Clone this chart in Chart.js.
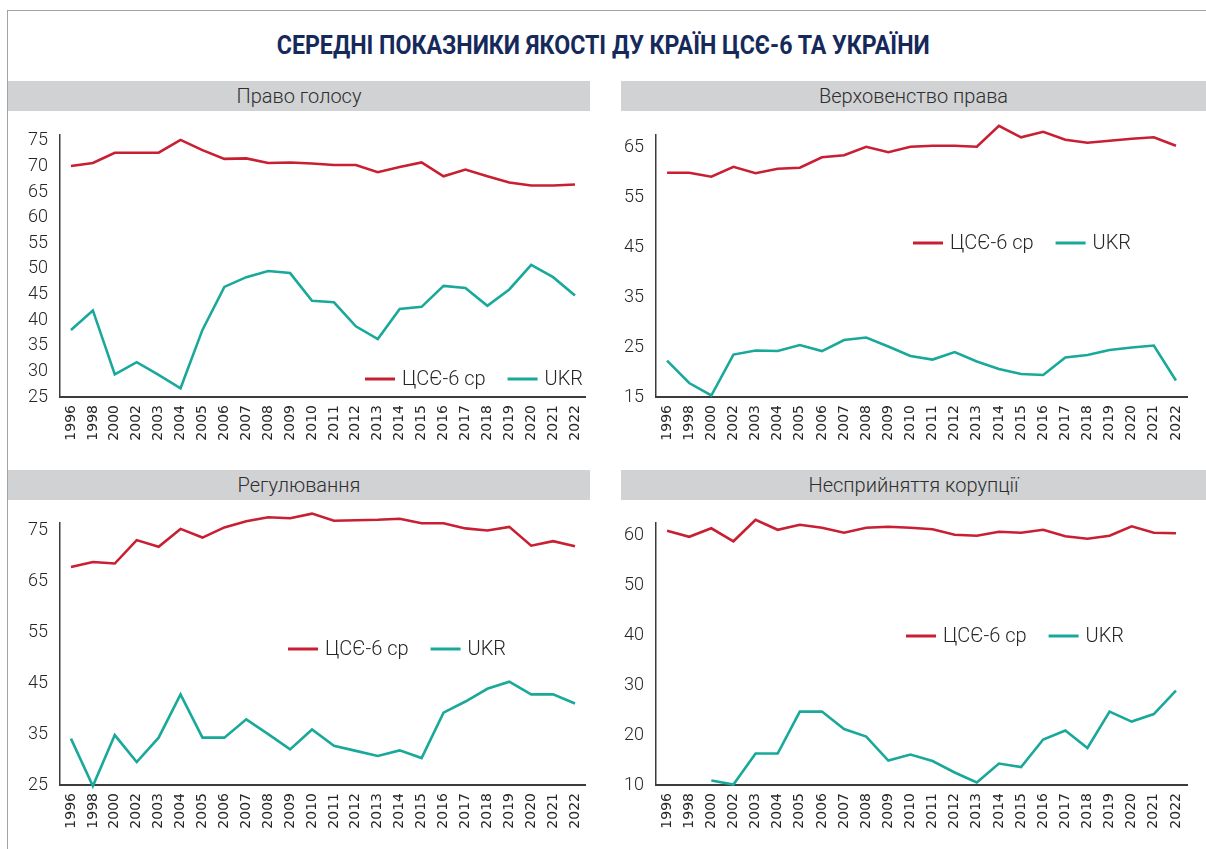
<!DOCTYPE html>
<html lang="uk">
<head>
<meta charset="utf-8">
<script src="https://cdn.jsdelivr.net/npm/chart.js@4.4.1/dist/chart.umd.min.js"></script>
<style>
  html, body { margin: 0; padding: 0; background: #fff; }
  body { width: 1206px; height: 849px; position: relative; overflow: hidden; font-family: Roboto, 'Noto Sans', sans-serif; }
  .frame { position: absolute; left: 7px; top: 10px; right: -2px; bottom: -2px; border-top: 1px solid #a3a3a3; border-left: 1px solid #a3a3a3; }
  .title { position: absolute; left: 0; top: 31px; width: 1206px; text-align: center; line-height: 30px; }
  .title span { display: inline-block; white-space: nowrap; font-weight: 700; font-size: 25px; color: #15295a; transform-origin: 50% 50%; }
  .hdr { position: absolute; height: 30px; line-height: 30px; background: #d1d2d4; color: #2e2e2e; font-size: 20px; font-weight: 300; text-align: center; }
  canvas { position: absolute; }
</style>
</head>
<body>
<div class="frame"></div>
<div class="title"><span id="title">СЕРЕДНІ ПОКАЗНИКИ ЯКОСТІ ДУ КРАЇН ЦСЄ-6 ТА УКРАЇНИ</span></div>

<div class="hdr" style="left:8px; top:81px; width:582px;">Право голосу</div>
<div class="hdr" style="left:621px; top:81px; width:585px;">Верховенство права</div>
<div class="hdr" style="left:8px; top:470px; width:582px;">Регулювання</div>
<div class="hdr" style="left:621px; top:470px; width:585px;">Несприйняття корупції</div>

<canvas id="voice" width="600" height="350" style="left:0; top:112px;"></canvas>
<canvas id="rule" width="606" height="350" style="left:600px; top:112px;"></canvas>
<canvas id="reg" width="600" height="349" style="left:0; top:500px;"></canvas>
<canvas id="corr" width="606" height="349" style="left:600px; top:500px;"></canvas>

<script>
const years = ['1996', '1998', '2000', '2002', '2003', '2004', '2005', '2006', '2007', '2008', '2009', '2010',
    '2011', '2012', '2013', '2014', '2015', '2016', '2017', '2018', '2019', '2020', '2021', '2022'];

// Право голосу
const voiceCee = [70.1, 70.7, 72.7, 72.7, 72.7, 75.2, 73.2, 71.5, 71.6, 70.7, 70.8, 70.6,
    70.3, 70.3, 68.9, 69.9, 70.8, 68.1, 69.4, 68.1, 66.9, 66.3, 66.3, 66.5];
const voiceUkr = [38.1, 41.9, 29.4, 31.8, 29.3, 26.7, 38.1, 46.5, 48.4, 49.6, 49.2, 43.8,
    43.5, 38.8, 36.3, 42.2, 42.6, 46.7, 46.3, 42.8, 46.0, 50.8, 48.4, 44.8];
const voiceTicks = [25, 30, 35, 40, 45, 50, 55, 60, 65, 70, 75];

// Верховенство права
const ruleCee = [59.9, 59.9, 59.1, 61.1, 59.8, 60.7, 60.9, 63.0, 63.4, 65.1, 64.0, 65.1,
    65.3, 65.3, 65.1, 69.3, 67.0, 68.1, 66.5, 65.9, 66.3, 66.7, 67.0, 65.3];
const ruleUkr = [22.3, 17.8, 15.3, 23.5, 24.3, 24.2, 25.4, 24.2, 26.4, 26.9, 25.1, 23.2,
    22.5, 24.0, 22.1, 20.6, 19.6, 19.4, 22.9, 23.4, 24.4, 24.9, 25.3, 18.3];
const ruleTicks = [15, 25, 35, 45, 55, 65];

// Регулювання
const regCee = [67.8, 68.8, 68.5, 73.1, 71.8, 75.3, 73.6, 75.6, 76.8, 77.6, 77.4, 78.3,
    76.9, 77.0, 77.1, 77.3, 76.4, 76.4, 75.4, 75.0, 75.7, 72.0, 72.9, 71.9];
const regUkr = [34.1, 24.8, 34.8, 29.5, 34.3, 42.8, 34.3, 34.3, 37.9, 35.0, 32.0, 35.9,
    32.7, 31.7, 30.7, 31.8, 30.3, 39.2, 41.4, 43.9, 45.3, 42.8, 42.8, 41.0];
const regTicks = [25, 35, 45, 55, 65, 75];

// Несприйняття корупції
const corrCee = [60.9, 59.7, 61.4, 58.8, 63.1, 61.1, 62.1, 61.5, 60.5, 61.5, 61.7, 61.5,
    61.2, 60.1, 59.9, 60.7, 60.5, 61.1, 59.8, 59.3, 59.9, 61.8, 60.5, 60.4];
const corrUkr = [null, null, 10.9, 10.1, 16.3, 16.3, 24.7, 24.7, 21.2, 19.7, 14.9, 16.1,
    14.8, 12.5, 10.5, 14.3, 13.6, 19.1, 20.9, 17.4, 24.7, 22.7, 24.2, 28.9];
const corrTicks = [10, 20, 30, 40, 50, 60];

const RED = '#c81f33';
const TEAL = '#19a99a';
const TEXT = '#262626';

// легенда всередині області графіка
const miniLegend = {
    id: 'miniLegend',
    afterDatasetsDraw(chart, args, opts) {
        const ctx = chart.ctx;
        let x = opts.x;
        const y = opts.y;
        ctx.save();
        ctx.font = '300 20px Roboto, sans-serif';
        ctx.textBaseline = 'middle';
        chart.data.datasets.forEach(ds => {
            ctx.strokeStyle = ds.borderColor;
            ctx.lineWidth = 3;
            ctx.beginPath();
            ctx.moveTo(x, y);
            ctx.lineTo(x + 30, y);
            ctx.stroke();
            x += 37;
            ctx.fillStyle = TEXT;
            ctx.fillText(ds.label, x, y + 1);
            x += ctx.measureText(ds.label).width + 22;
        });
        ctx.restore();
    },
};

function makeChart(id, cee, ukr, ticks, range, layout) {
    return new Chart(document.getElementById(id), {
        type: 'line',
        data: {
            labels: years,
            datasets: [
                { label: 'ЦСЄ-6 ср', data: cee, borderColor: RED, backgroundColor: RED, borderWidth: 2.6, pointRadius: 0, tension: 0, clip: false },
                { label: 'UKR', data: ukr, borderColor: TEAL, backgroundColor: TEAL, borderWidth: 2.6, pointRadius: 0, tension: 0, clip: false },
            ],
        },
        options: {
            responsive: false,
            animation: false,
            layout: { padding: { top: 18, right: layout.padRight, left: 0, bottom: 0 } },
            plugins: {
                legend: { display: false },
                tooltip: { enabled: false },
                miniLegend: layout.legend,
            },
            scales: {
                x: {
                    offset: true,
                    grid: { display: false, drawTicks: false },
                    border: { display: true, color: '#3c3c3c', width: 2 },
                    ticks: {
                        autoSkip: false, maxRotation: 90, minRotation: 90, padding: 8,
                        color: TEXT, font: { family: "'DejaVu Sans', sans-serif", size: 14 },
                    },
                    afterFit: s => { s.height = layout.xHeight; },
                },
                y: {
                    min: range[0],
                    max: range[1],
                    grid: { display: false, drawTicks: false },
                    border: { display: true, color: '#3c3c3c', width: 1.5 },
                    ticks: {
                        padding: 12, color: TEXT,
                        font: { family: 'Roboto, sans-serif', size: 18, weight: '300' },
                    },
                    afterBuildTicks: s => { s.ticks = ticks.map(v => ({ value: v })); },
                    afterFit: s => { s.width = layout.yWidth; },
                },
            },
        },
        plugins: [miniLegend],
    });
}

makeChart('voice', voiceCee, voiceUkr, voiceTicks, [25, 76.2],
    { padRight: 9, yWidth: 60, xHeight: 65, legend: { x: 365, y: 267 } });
makeChart('rule', ruleCee, ruleUkr, ruleTicks, [15, 67.5],
    { padRight: 19, yWidth: 56, xHeight: 65, legend: { x: 313, y: 131 } });
makeChart('reg', regCee, regUkr, regTicks, [25, 76.5],
    { padRight: 9, yWidth: 60, xHeight: 64, legend: { x: 288, y: 149 } });
makeChart('corr', corrCee, corrUkr, corrTicks, [10, 62.5],
    { padRight: 19, yWidth: 56, xHeight: 64, legend: { x: 306, y: 136 } });

// заголовок стискаємо до ширини оригіналу
const title = document.getElementById('title');
const tw = title.getBoundingClientRect().width;
title.style.transform = 'scaleX(' + (653 / tw).toFixed(3) + ')';
</script>
</body>
</html>
